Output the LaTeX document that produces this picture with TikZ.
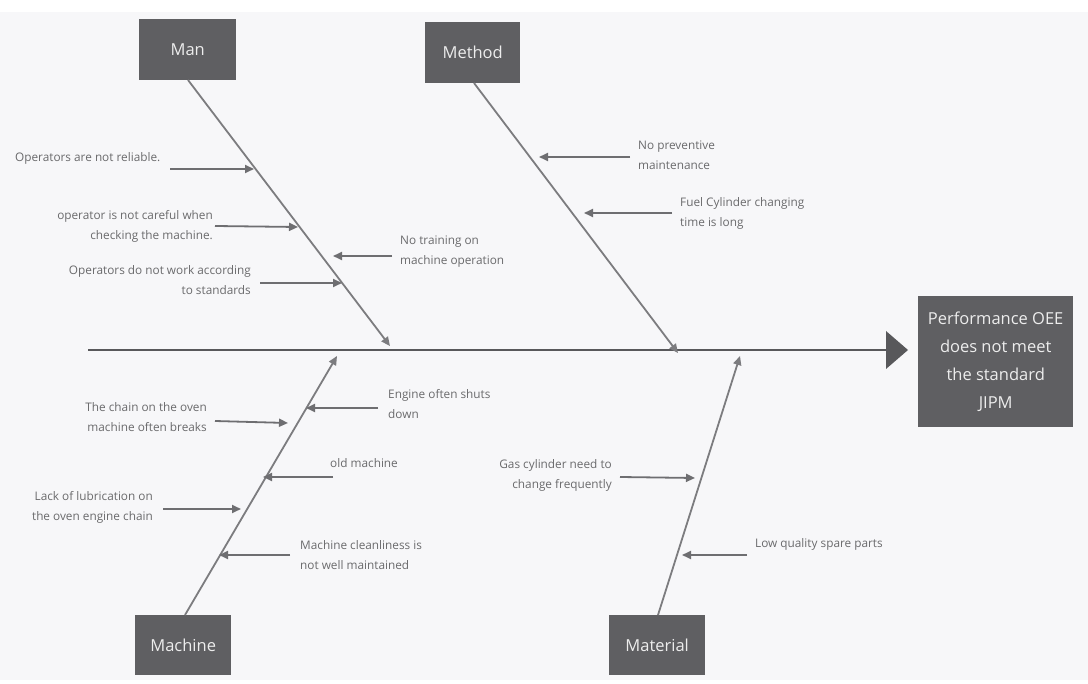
\documentclass[tikz,border=0pt]{standalone}
\usepackage{fontspec}
\setmainfont{Open Sans}
\usetikzlibrary{arrows.meta}
\definecolor{bgc}{HTML}{F7F7F9}
\definecolor{boxc}{HTML}{5F5F62}
\definecolor{bonec}{HTML}{7C7C7F}
\definecolor{subc}{HTML}{6E6E71}
\definecolor{spinec}{HTML}{58585B}
\definecolor{txtc}{HTML}{6A6A6C}
\tikzset{
  catbox/.style={fill=boxc, draw=none, text=white!93!black, inner sep=0pt,
    font=\fontsize{16.5}{20}\selectfont, anchor=north west},
  effbox/.style={fill=boxc, draw=none, text=white!93!black, inner sep=0pt,
    font=\fontsize{16.5}{28}\selectfont, align=center, anchor=north west},
  bone/.style={draw=bonec, line width=1.8pt, -{Triangle[length=9pt,width=8pt]}},
  subarrow/.style={draw=subc, line width=1.8pt, -{Triangle[length=9pt,width=8pt]}},
  lbl/.style={text=txtc, inner sep=0pt, font=\fontsize{11.8}{20}\selectfont},
}
\begin{document}
\begin{tikzpicture}[x=1pt,y=-1pt]
\useasboundingbox (0,0) rectangle (1088,684);
\fill[white] (0,0) rectangle (1088,684);
\fill[bgc] (0,12) rectangle (1088,680);

% category boxes
\node[catbox, minimum width=97pt, minimum height=61pt] (man) at (139,19) {Man};
\node[catbox, minimum width=95pt, minimum height=61pt] (method) at (425,22) {Method};
\node[catbox, minimum width=96pt, minimum height=60pt] (machine) at (135,615) {Machine};
\node[catbox, minimum width=96pt, minimum height=60pt] (material) at (609,615) {Material};
\node[effbox, minimum width=155pt, minimum height=131pt] (effect) at (918,296)
  {Performance OEE\\does not meet\\the standard\\JIPM};

% spine
\coordinate (spS) at (88,350);
\coordinate (spE) at (887,350);
\draw[draw=spinec, line width=2.4pt] (spS) -- (spE);
\fill[spinec] (886,331) -- (908,350) -- (886,369) -- cycle;

% bones
\coordinate (manB) at (188,80);
\coordinate (manT) at (390,346);
\coordinate (metB) at (474,83);
\coordinate (metT) at (678,353);
\coordinate (macB) at (185,615);
\coordinate (macT) at (337,356);
\coordinate (matB) at (658,615);
\coordinate (matT) at (740,356);
\draw[bone] (manB) -- (manT);
\draw[bone] (metB) -- (metT);
\draw[bone] (macB) -- (macT);
\draw[bone] (matB) -- (matT);

% Man causes
\node[lbl, anchor=west] (m1) at (15,158) {Operators are not reliable.};
\coordinate (m1s) at (170,169); \coordinate (m1e) at (254,169);
\draw[subarrow] (m1s) -- (m1e);

\node[lbl, anchor=north east, align=right] (m2) at (213,210) {operator is not careful when\\checking the machine.};
\coordinate (m2s) at (215,226); \coordinate (m2e) at (298,227);
\draw[subarrow] (m2s) -- (m2e);

\node[lbl, anchor=north east, align=right] (m3) at (251,265) {Operators do not work according\\to standards};
\coordinate (m3s) at (260,283); \coordinate (m3e) at (342,283);
\draw[subarrow] (m3s) -- (m3e);

\node[lbl, anchor=north west, align=left] (m4) at (400,236) {No training on\\machine operation};
\coordinate (m4s) at (392,256); \coordinate (m4e) at (333,256);
\draw[subarrow] (m4s) -- (m4e);

% Method causes
\node[lbl, anchor=north west, align=left] (t1) at (638,141) {No preventive\\maintenance};
\coordinate (t1s) at (630,157); \coordinate (t1e) at (539,157);
\draw[subarrow] (t1s) -- (t1e);

\node[lbl, anchor=north west, align=left] (t2) at (680,197) {Fuel Cylinder changing\\time is long};
\coordinate (t2s) at (672,213); \coordinate (t2e) at (584,213);
\draw[subarrow] (t2s) -- (t2e);

% Machine causes
\node[lbl, anchor=north east, align=right] (c1) at (207,402) {The chain on the oven\\machine often breaks};
\coordinate (c1s) at (215,421); \coordinate (c1e) at (288,423);
\draw[subarrow] (c1s) -- (c1e);

\node[lbl, anchor=north west, align=left] (c2) at (388,389) {Engine often shuts\\down};
\coordinate (c2s) at (378,408); \coordinate (c2e) at (306,408);
\draw[subarrow] (c2s) -- (c2e);

\node[lbl, anchor=west] (c3) at (330,463) {old machine};
\coordinate (c3s) at (333,477); \coordinate (c3e) at (263,477);
\draw[subarrow] (c3s) -- (c3e);

\node[lbl, anchor=north east, align=right] (c4) at (153,491) {Lack of lubrication on\\the oven engine chain};
\coordinate (c4s) at (163,509); \coordinate (c4e) at (241,509);
\draw[subarrow] (c4s) -- (c4e);

\node[lbl, anchor=north west, align=left] (c5) at (300,540) {Machine cleanliness is\\not well maintained};
\coordinate (c5s) at (290,555); \coordinate (c5e) at (219,555);
\draw[subarrow] (c5s) -- (c5e);

% Material causes
\node[lbl, anchor=north east, align=right] (a1) at (612,459) {Gas cylinder need to\\change frequently};
\coordinate (a1s) at (620,477); \coordinate (a1e) at (695,478);
\draw[subarrow] (a1s) -- (a1e);

\node[lbl, anchor=west] (a2) at (755,544) {Low quality spare parts};
\coordinate (a2s) at (747,555); \coordinate (a2e) at (682,555);
\draw[subarrow] (a2s) -- (a2e);
\end{tikzpicture}
\end{document}
